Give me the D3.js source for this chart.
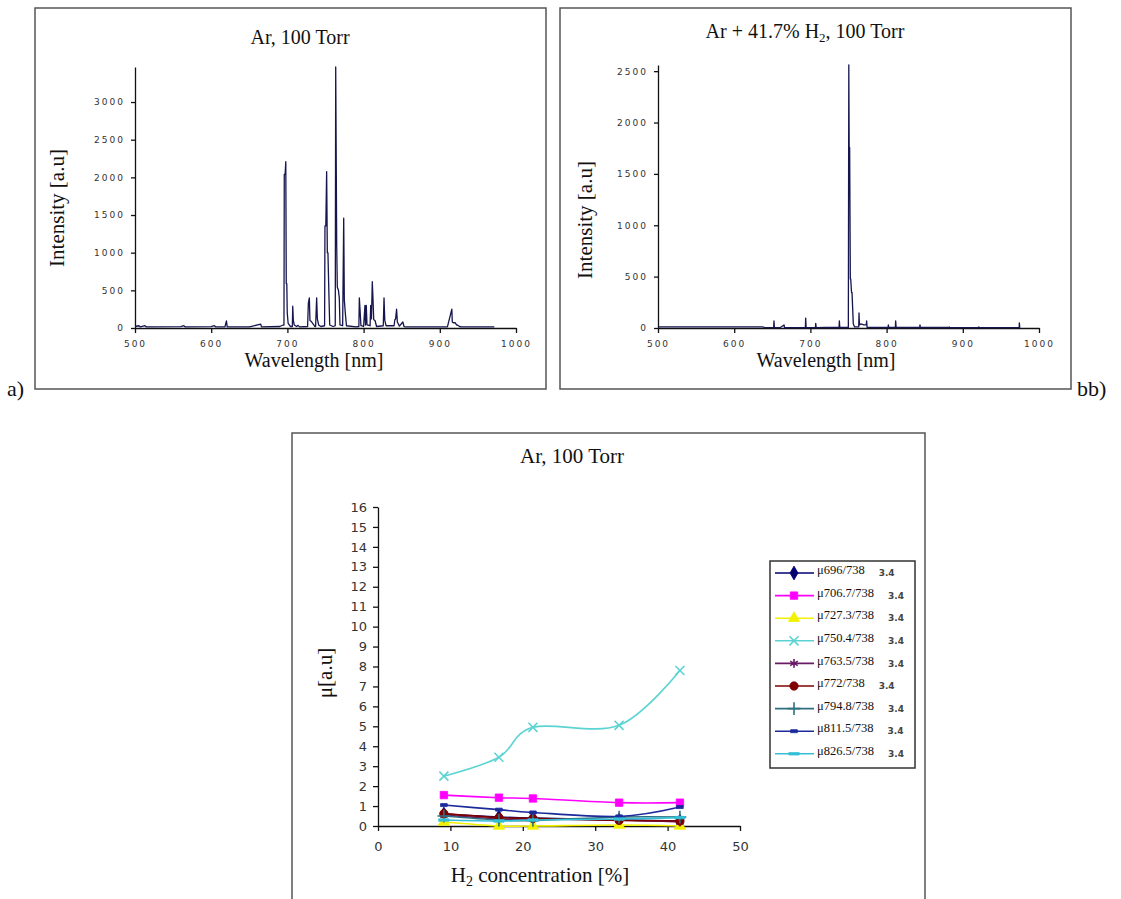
<!DOCTYPE html>
<html>
<head>
<meta charset="utf-8">
<script src="https://cdn.jsdelivr.net/npm/d3@7"></script>
<style>
  body { margin: 0; background: #fff; }
  .serif { font-family: "Liberation Serif", "Times New Roman", serif; fill: #111; }
  .tickA text { font-family: "DejaVu Sans", sans-serif; font-size: 9px; letter-spacing: 2px; fill: #333; }
  .tickC text { font-family: "DejaVu Sans", sans-serif; font-size: 13px; fill: #333; }
  .tickA path, .tickA line, .tickC path, .tickC line { stroke: #111; stroke-width: 1.3; }
</style>
</head>
<body>
<script>
'use strict';

// spectrum a) Ar, 100 Torr : wavelength [nm] / intensity [a.u]
const specAWl = [500, 505, 507, 513, 515, 560, 564, 566, 600, 604, 606, 618, 620, 621, 650, 665, 666, 690, 694.5,
  695.5, 695.9, 697, 697.9, 698.5, 699.2, 699.8, 701, 704, 706.5, 707, 707.8, 709, 712, 714, 716, 726.5,
  727.5, 728.8, 729.6, 731, 736, 737, 738.4, 739.3, 741, 744, 748.8, 749.3, 750.4, 751.5, 752.4, 753.2, 754.6, 755.5,
  760, 762.8, 763.4, 764.7, 765.5, 767, 768.1, 769, 772.5, 773.9, 774.7, 776, 777.5, 790, 793.8, 794.4, 795.3,
  796.5, 800, 801.8, 802.5, 803.5, 804.5, 808.5, 809.3, 810.3, 811.4, 812.3, 813.3, 815, 817, 825.8, 826.8, 827.8,
  829.5, 840, 841, 842, 843.3, 844.3, 845.3, 847, 851.5, 853, 854.5, 860, 910, 915.8, 916.4, 917.7, 920, 922, 923,
  926, 928, 935, 971.5];
const specAInt = [20, 30, 15, 30, 15, 18, 30, 15, 18, 30, 15, 15, 95, 15, 15, 50, 15, 20, 40,
  40, 2040, 2040, 2210, 590, 590, 200, 60, 20, 20, 290, 100, 40, 20, 35, 15, 20,
  330, 400, 100, 90, 20, 20, 400, 120, 40, 20, 30, 1355, 1355, 2076, 1000, 1000, 400, 40,
  20, 30, 3465, 1100, 540, 500, 400, 40, 30, 1460, 370, 200, 30, 15, 20, 400, 250,
  30, 20, 300, 40, 300, 40, 30, 300, 120, 615, 390, 110, 100, 20, 30, 400, 100,
  30, 30, 110, 120, 250, 80, 60, 25, 80, 20, 15, 15, 15, 250, 80, 70,
  70, 40, 40, 20, 15, 15, 15];

// spectrum b) Ar + 41.7% H2, 100 Torr
const specBWl = [500, 638, 640, 651.8, 652.2, 652.8, 660, 665.4, 666, 680, 693.4, 693.8, 694.4, 706.6, 707, 707.6,
  720, 737.6, 738, 738.6, 749.8, 750.4, 750.9, 751.5, 752.4, 752.9, 754, 754.6, 756.3, 758, 763.4, 763.8, 764.4,
  766, 770, 773.4, 773.8, 774.4, 790, 802, 802.3, 802.8, 811.5, 811.9, 812.5, 843.5, 843.8, 844.3, 882, 882.3,
  883, 920, 921, 922, 974, 974.2, 974.8];
const specBInt = [10, 10, 3, 3, 70, 3, 3, 30, 3, 3, 3, 97, 3, 3, 45, 3,
  5, 5, 70, 5, 5, 2561, 1757, 1757, 477, 477, 347, 347, 40, 10, 10, 146, 30,
  40, 30, 30, 70, 5, 5, 5, 30, 5, 5, 70, 5, 5, 30, 5, 5, 10,
  3, 3, 10, 3, 3, 50, 3];

// c) line ratios versus H2 concentration
const h2Conc = [9.1, 16.7, 21.4, 33.3, 41.7];
const ratioNames = ["\u03bc696/738", "\u03bc706.7/738", "\u03bc727.3/738", "\u03bc750.4/738", "\u03bc763.5/738",
  "\u03bc772/738", "\u03bc794.8/738", "\u03bc811.5/738", "\u03bc826.5/738"];
const ratio696 = [0.6, 0.45, 0.4, 0.3, 0.25];
const ratio706 = [1.55, 1.42, 1.38, 1.17, 1.17];
const ratio727 = [0.2, 0.0, 0.0, 0.05, 0.0];
const ratio750 = [2.5, 3.45, 4.95, 5.05, 7.8];
const ratio763 = [0.55, 0.35, 0.35, 0.3, 0.2];
const ratio772 = [0.62, 0.42, 0.38, 0.28, 0.25];
const ratio794 = [0.5, 0.3, 0.28, 0.45, 0.45];
const ratio811 = [1.05, 0.82, 0.68, 0.48, 0.95];
const ratio826 = [0.3, 0.25, 0.3, 0.35, 0.42];
const ratioSeries = [ratio696, ratio706, ratio727, ratio750, ratio763, ratio772, ratio794, ratio811, ratio826];

const specTicks = [500, 600, 700, 800, 900, 1000];
const ticksA = [0, 500, 1000, 1500, 2000, 2500, 3000];
const ticksB = [0, 500, 1000, 1500, 2000, 2500];
const ticksCx = [0, 10, 20, 30, 40, 50];
const ticksCy = d3.range(0, 17);

// excel-like series styling
const seriesColors = ["#000070", "#ff00ff", "#f2f200", "#5cd3d3", "#6a1b66", "#800000", "#2e7080", "#1c2a9a", "#33bfd6"];
const dashShort = { draw: (ctx, size) => { const w = Math.sqrt(size) * 0.9; ctx.rect(-w / 2, -1.5, w, 3); } };
const dashLong = { draw: (ctx, size) => { const w = Math.sqrt(size) * 1.4; ctx.rect(-w / 2, -1.2, w, 2.4); } };
const seriesSymbols = [d3.symbolDiamond, d3.symbolSquare, d3.symbolTriangle, d3.symbolTimes, d3.symbolAsterisk,
  d3.symbolCircle, d3.symbolPlus, dashShort, dashLong];
const strokeSymbols = [false, false, false, true, true, false, true, false, false];

const svg = d3.select("body").append("svg").
attr("width", 1121).
attr("height", 899);

svg.append("rect").attr("width", 1121).attr("height", 899).attr("fill", "#fff");

//Panel frames
function frame(x, y, w, h) {
  svg.append("rect").
  attr("x", x).attr("y", y).attr("width", w).attr("height", h).
  attr("fill", "none").attr("stroke", "#555").attr("stroke-width", 1.5);
}
frame(35, 8, 511, 381);
frame(560, 8, 511, 381);
frame(292, 433, 633, 480);

svg.append("text").attr("class", "serif").attr("x", 7).attr("y", 396).attr("font-size", 22).text("a)");
svg.append("text").attr("class", "serif").attr("x", 1077).attr("y", 396).attr("font-size", 22).text("bb)");

//Spectrum panels
function spectrum(params) {
  const x = d3.scaleLinear().domain([500, 1000]).range(params.xRange);
  const y = d3.scaleLinear().domain([0, params.yMax]).range([328, params.yTop]);
  const g = svg.append("g");

  g.append("g").
  attr("class", "tickA").
  attr("transform", "translate(0,328)").
  call(d3.axisBottom(x).tickValues(specTicks).tickSize(5).tickSizeOuter(0).tickPadding(8).tickFormat(d3.format("d")));

  g.append("g").
  attr("class", "tickA").
  attr("transform", "translate(" + params.xRange[0] + ",0)").
  call(d3.axisLeft(y).tickValues(params.ticks).tickSize(4).tickSizeOuter(0).tickPadding(6).tickFormat(d3.format("d")));

  const pts = params.wl.map((w, i) => [w, params.val[i]]);
  g.append("path").
  datum(pts).
  attr("fill", "none").
  attr("stroke", "#16164f").
  attr("stroke-width", 1.3).
  attr("stroke-linejoin", "round").
  attr("d", d3.line().x(d => x(d[0])).y(d => y(d[1])));

  const title = g.append("text").attr("class", "serif").
  attr("x", params.titleX).attr("y", params.titleY).
  attr("text-anchor", "middle").attr("font-size", 20);
  params.title.forEach(t => {
    title.append("tspan").
    attr("font-size", t.sub ? 13 : 20).
    attr("dy", t.sub ? 4 : (t.after ? -4 : 0)).
    text(t.s);
  });

  g.append("text").attr("class", "serif").
  attr("transform", "translate(" + params.yLabel[0] + "," + params.yLabel[1] + ") rotate(-90)").
  attr("text-anchor", "middle").attr("dy", "0.35em").attr("font-size", 21).
  text("Intensity [a.u]");

  g.append("text").attr("class", "serif").
  attr("x", params.xLabelX).attr("y", 367).
  attr("text-anchor", "middle").attr("font-size", 20).
  text("Wavelength [nm]");
}

spectrum({
  wl: specAWl, val: specAInt, xRange: [135, 516], yMax: 3465, yTop: 67, ticks: ticksA,
  title: [{ s: "Ar, 100 Torr" }], titleX: 300, titleY: 44,
  yLabel: [57, 208], xLabelX: 314 });

spectrum({
  wl: specBWl, val: specBInt, xRange: [658, 1039], yMax: 2560, yTop: 65, ticks: ticksB,
  title: [{ s: "Ar + 41.7% H" }, { s: "2", sub: true }, { s: ", 100 Torr", after: true }], titleX: 805, titleY: 38,
  yLabel: [585, 220], xLabelX: 826 });

//Ratio panel
const xC = d3.scaleLinear().domain([0, 50]).range([378, 740]);
const yC = d3.scaleLinear().domain([0, 16]).range([826, 507]);
const gC = svg.append("g");

gC.append("g").
attr("class", "tickC").
attr("transform", "translate(0,826)").
call(d3.axisBottom(xC).tickValues(ticksCx).tickSize(5).tickSizeOuter(0).tickPadding(11));

gC.append("g").
attr("class", "tickC").
attr("transform", "translate(378,0)").
call(d3.axisLeft(yC).tickValues(ticksCy).tickSize(5).tickSizeOuter(0).tickPadding(6));

const lineC = d3.line().
x((d, i) => xC(h2Conc[i])).
y(d => yC(d)).
curve(d3.curveCardinal.tension(0));

ratioSeries.forEach((vals, k) => {
  gC.append("path").
  datum(vals).
  attr("fill", "none").
  attr("stroke", seriesColors[k]).
  attr("stroke-width", 1.6).
  attr("d", lineC);

  gC.selectAll(null).
  data(vals).
  enter().
  append("path").
  attr("transform", (d, i) => "translate(" + xC(h2Conc[i]) + "," + yC(d) + ")").
  attr("d", d3.symbol().type(seriesSymbols[k]).size(55)).
  attr("fill", strokeSymbols[k] ? "none" : seriesColors[k]).
  attr("stroke", seriesColors[k]).
  attr("stroke-width", strokeSymbols[k] ? 1.6 : 0.8);
});

gC.append("text").attr("class", "serif").
attr("x", 572).attr("y", 463).attr("text-anchor", "middle").attr("font-size", 21).
text("Ar, 100 Torr");

gC.append("text").attr("class", "serif").
attr("transform", "translate(325,673) rotate(-90)").
attr("text-anchor", "middle").attr("dy", "0.35em").attr("font-size", 21).
text("\u03bc[a.u]");

const xLab = gC.append("text").attr("class", "serif").
attr("x", 540).attr("y", 882).attr("text-anchor", "middle").attr("font-size", 21);
xLab.append("tspan").text("H");
xLab.append("tspan").attr("font-size", 14).attr("dy", 4).text("2");
xLab.append("tspan").attr("dy", -4).text(" concentration [%]");

//Legend
const legend = svg.append("g").attr("transform", "translate(770,561)");
legend.append("rect").
attr("width", 145).attr("height", 207).
attr("fill", "#fff").attr("stroke", "#333").attr("stroke-width", 1.5);

const legendItem = legend.selectAll("g.legendItem").
data(ratioNames).
enter().
append("g").
classed("legendItem", true).
attr("transform", (d, i) => "translate(0," + (12 + i * 22.6) + ")");

legendItem.append("line").
attr("x1", 5).attr("x2", 44).
attr("stroke", (d, i) => seriesColors[i]).
attr("stroke-width", 1.6);

legendItem.append("path").
attr("transform", "translate(24,0)").
attr("d", (d, i) => d3.symbol().type(seriesSymbols[i]).size(55)()).
attr("fill", (d, i) => strokeSymbols[i] ? "none" : seriesColors[i]).
attr("stroke", (d, i) => seriesColors[i]).
attr("stroke-width", (d, i) => strokeSymbols[i] ? 1.6 : 0.8);

const legendText = legendItem.append("text").attr("class", "serif").
attr("x", 47).attr("dy", "0.1em").attr("font-size", 12.5).
text(d => d);

// leftover value glyphs showing behind the legend labels
legendItem.append("text").
attr("x", function (d, i) { return 47 + legendText.nodes()[i].getComputedTextLength() + 14; }).
attr("dy", "0.35em").
attr("font-family", "DejaVu Sans, sans-serif").attr("font-size", 9).attr("font-weight", "bold").
attr("fill", "#444").
text("3.4");
</script>
</body>
</html>
